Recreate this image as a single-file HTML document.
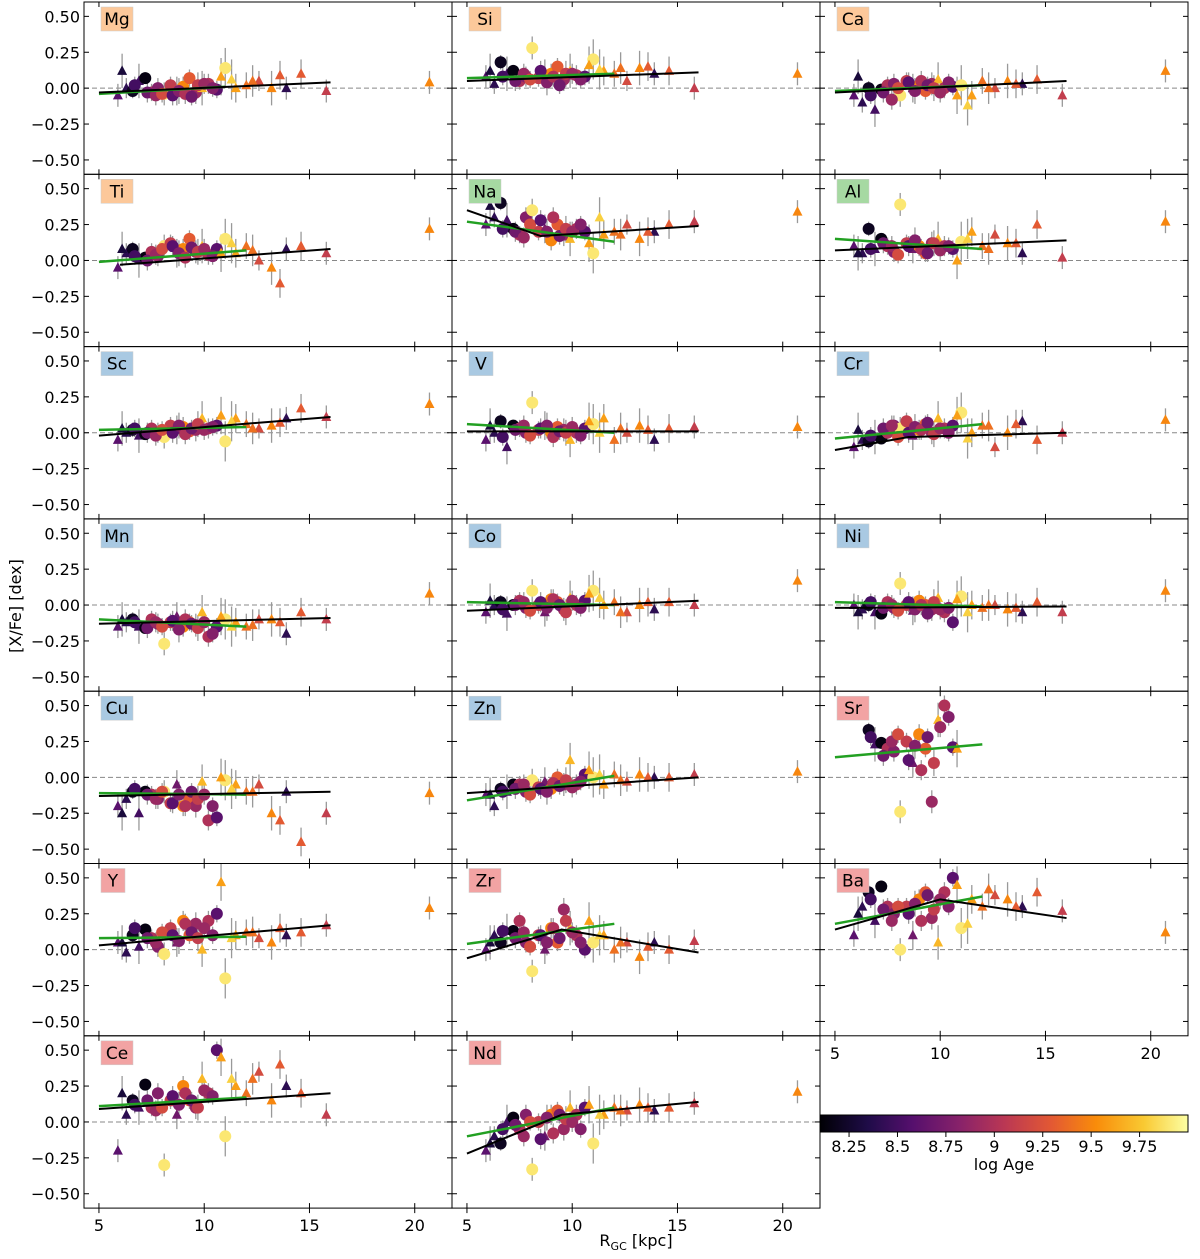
<!DOCTYPE html>
<html><head><meta charset="utf-8"><style>
body{margin:0;background:#fff}
svg text{font-family:"DejaVu Sans","Liberation Sans",sans-serif}
</style></head><body>
<svg id="fig" width="1200" height="1254" viewBox="0 0 1200 1254" xmlns="http://www.w3.org/2000/svg"></svg>
<script>
const elements=["Mg","Si","Ca","Ti","Na","Al","Sc","V","Cr","Mn","Co","Ni","Cu","Zn","Sr","Y","Zr","Ba","Ce","Nd"];
const boxColors=["#fcc89a","#fcc89a","#fcc89a","#fcc89a","#a6d9a2","#a6d9a2","#a9c9e2","#a9c9e2","#a9c9e2","#a9c9e2","#a9c9e2","#a9c9e2","#a9c9e2","#a9c9e2","#f2a3a3","#f2a3a3","#f2a3a3","#f2a3a3","#f2a3a3","#f2a3a3"];
const rgc=[5.9,6.3,6.6,6.9,7.2,7.5,7.8,8.1,8.4,8.7,9.0,9.3,9.6,9.9,10.2,10.6,11.0,11.5,12.0,12.6,13.2,13.9,14.6,15.8,20.7];
const logAge=[8.6,8.4,8.2,8.5,8.15,9.0,8.8,9.9,9.1,8.7,9.5,9.3,8.9,9.7,9.0,8.6,9.9,9.6,9.4,9.2,9.5,8.4,9.3,9.1,9.5];
const markerType=["t","t","c","t","c","c","c","c","c","t","c","c","c","t","c","c","c","t","t","t","t","t","t","t","t"];
const errs=[0.08,0.07,0.05,0.12,0.04,0.06,0.07,0.08,0.06,0.1,0.07,0.06,0.08,0.12,0.07,0.06,0.14,0.1,0.09,0.07,0.12,0.08,0.1,0.08,0.08];
const rgc2=[6.1,6.7,7.3,7.7,8.0,8.5,8.8,9.1,9.4,9.7,10.0,10.4,10.8,11.3,12.3,13.6];
const logAge2=[8.3,8.5,8.7,8.9,9.2,8.6,8.8,9.0,8.7,9.1,8.9,8.8,9.6,9.8,9.4,9.3];
const markerType2=["t","c","c","c","c","c","c","c","c","c","c","c","t","t","t","t"];
const errs2=[0.12,0.06,0.07,0.07,0.06,0.07,0.09,0.07,0.06,0.09,0.07,0.06,0.13,0.14,0.11,0.1];
const N=null;
const vals={
Mg:[-0.05,0.0,-0.02,0.05,0.07,-0.03,0.0,-0.04,0.02,-0.02,0.01,0.07,-0.03,0.0,0.03,-0.01,0.14,0.0,0.02,0.05,0.0,0.0,0.1,-0.02,0.04],
Si:[0.08,0.03,0.18,0.1,0.12,0.05,0.08,0.28,0.07,0.1,0.1,0.15,0.06,0.12,0.09,0.08,0.2,0.12,0.1,0.05,0.14,0.1,0.12,0.0,0.1],
Ca:[-0.05,-0.1,0.0,-0.15,-0.01,0.02,0.03,-0.05,0.05,0.0,0.02,-0.02,0.03,0.06,0.0,0.01,0.02,-0.05,0.05,0.0,0.05,0.03,0.06,-0.05,0.12],
Ti:[-0.05,0.05,0.08,0.0,0.02,0.06,0.03,0.1,0.12,0.05,0.08,0.15,0.06,0.1,0.04,0.08,0.15,0.05,0.1,0.0,-0.05,0.08,0.1,0.05,0.22],
Na:[0.25,0.3,0.4,0.28,0.22,0.18,0.3,0.35,0.2,0.22,0.14,0.25,0.18,0.15,0.22,0.2,0.05,0.18,0.2,0.25,0.15,0.2,0.25,0.27,0.34],
Al:[0.1,0.05,0.22,0.08,0.15,0.1,0.06,0.39,0.12,0.08,0.1,0.05,0.12,0.15,0.1,0.08,0.13,0.2,0.1,0.18,0.12,0.05,0.25,0.02,0.27],
Sc:[-0.05,0.0,0.02,-0.02,-0.01,0.03,0.0,-0.03,0.05,0.02,0.04,0.01,0.02,0.1,0.03,0.05,-0.06,0.1,0.06,0.03,0.05,0.1,0.17,0.11,0.2],
V:[-0.05,0.0,0.08,-0.1,0.05,0.03,0.0,0.21,0.02,0.05,0.0,0.04,0.02,-0.05,0.0,0.03,0.06,0.1,-0.05,0.0,0.05,-0.05,0.03,0.04,0.04],
Cr:[-0.1,-0.05,-0.06,-0.03,-0.04,0.0,0.05,0.03,0.08,-0.02,0.02,0.06,0.0,0.1,0.03,0.05,0.14,0.0,0.05,-0.1,0.0,0.08,-0.05,0.0,0.09],
Mn:[-0.15,-0.12,-0.1,-0.15,-0.16,-0.1,-0.13,-0.27,-0.12,-0.08,-0.15,-0.12,-0.14,-0.05,-0.22,-0.15,-0.1,-0.12,-0.15,-0.1,-0.1,-0.2,-0.05,-0.1,0.08],
Co:[-0.05,0.0,0.02,-0.06,0.0,0.03,-0.02,0.1,0.0,-0.05,0.04,0.02,-0.03,0.05,0.0,0.03,0.1,0.0,0.02,-0.05,0.0,-0.03,0.02,0.0,0.17],
Ni:[0.0,-0.03,0.0,-0.05,-0.06,0.02,-0.02,0.15,0.0,-0.04,0.03,0.0,-0.03,0.05,-0.05,-0.12,0.06,0.0,-0.02,0.0,-0.03,-0.05,0.02,-0.05,0.1],
Cu:[-0.2,-0.15,-0.1,-0.25,-0.1,-0.12,-0.15,-0.1,-0.18,-0.05,-0.2,-0.15,-0.2,-0.03,-0.3,-0.28,-0.02,-0.05,-0.1,-0.05,-0.25,-0.1,-0.45,-0.25,-0.11],
Zn:[-0.12,-0.2,-0.08,-0.1,-0.05,-0.05,-0.1,-0.02,-0.07,-0.03,-0.08,0.0,-0.05,0.12,-0.05,0.02,0.0,-0.05,0.02,-0.03,0.02,0.0,0.0,0.02,0.04],
Sr:[N,N,0.33,0.23,0.24,0.2,0.18,-0.24,0.25,0.1,0.3,0.2,-0.17,0.4,0.5,0.21,N,N,N,N,N,N,N,N,N],
Y:[0.05,-0.02,0.1,0.02,0.14,0.08,0.02,-0.03,0.15,0.05,0.2,0.1,0.18,0.0,0.2,0.25,-0.2,0.1,0.12,0.08,0.05,0.1,0.12,0.17,0.29],
Zr:[0.0,0.1,0.05,0.13,0.13,0.2,0.05,-0.15,0.1,0.0,0.15,0.05,0.28,0.15,0.1,0.0,0.05,0.1,0.0,0.05,-0.05,0.05,0.0,0.06,N],
Ba:[0.1,0.3,0.4,0.2,0.44,0.3,0.25,0.0,0.3,0.1,0.35,0.4,0.22,0.05,0.4,0.5,0.15,0.35,0.3,0.38,0.35,0.3,0.4,0.27,0.12],
Ce:[-0.2,0.05,0.15,0.1,0.26,0.1,0.2,-0.3,0.15,0.05,0.25,0.15,0.1,0.3,0.2,0.5,-0.1,0.25,0.2,0.35,0.15,0.25,0.2,0.05,N],
Nd:[-0.2,-0.1,-0.15,0.0,0.03,-0.05,0.05,-0.33,0.0,-0.1,0.05,0.08,-0.05,0.1,0.05,0.1,-0.15,0.05,0.1,0.08,0.12,0.08,0.1,0.13,0.21]};
const vals2={
Mg:[0.12,0.02,-0.03,-0.05,-0.04,-0.05,-0.02,-0.04,-0.06,0.02,0.03,0.0,0.08,0.06,0.05,0.09],
Si:[0.12,0.08,0.05,0.1,0.06,0.12,0.04,0.08,0.02,0.1,0.1,0.06,0.16,0.13,0.14,0.15],
Ca:[0.08,-0.05,-0.03,-0.08,0.0,0.04,-0.02,0.05,0.02,0.0,-0.03,0.04,-0.05,-0.12,0.0,0.03],
Ti:[0.08,0.03,0.0,0.04,0.08,0.1,0.05,0.02,0.09,0.06,0.08,0.03,0.05,0.12,0.07,-0.16],
Na:[0.38,0.22,0.2,0.16,0.25,0.28,0.2,0.3,0.17,0.22,0.2,0.25,0.12,0.3,0.18,0.2],
Al:[0.05,0.08,0.12,0.1,0.04,0.1,0.14,0.08,0.05,0.12,0.07,0.1,0.0,0.15,0.08,0.12],
Sc:[0.03,0.03,0.0,-0.02,0.02,0.0,0.05,-0.01,0.03,0.06,0.02,0.04,0.12,0.08,0.03,0.07],
V:[0.05,-0.03,0.02,0.05,-0.02,0.03,0.05,-0.03,0.01,0.0,0.04,-0.02,0.08,0.0,0.03,0.02],
Cr:[0.02,-0.02,0.03,0.05,-0.03,0.0,0.04,0.02,0.07,-0.01,0.03,0.0,0.12,-0.04,0.05,0.06],
Mn:[-0.1,-0.12,-0.16,-0.12,-0.15,-0.11,-0.17,-0.1,-0.13,-0.16,-0.12,-0.2,-0.08,-0.15,-0.14,-0.12],
Co:[0.03,-0.03,0.0,0.02,-0.04,0.02,-0.02,0.04,0.0,-0.05,0.03,-0.02,0.08,0.05,-0.05,0.02],
Ni:[-0.05,0.02,-0.02,0.0,-0.04,0.02,-0.03,0.0,-0.06,0.02,-0.03,-0.02,0.04,-0.05,0.0,-0.02],
Cu:[-0.25,-0.08,-0.12,-0.15,-0.1,-0.18,-0.12,-0.2,-0.1,-0.15,-0.12,-0.2,0.0,-0.08,-0.1,-0.3],
Zn:[-0.12,-0.1,-0.08,-0.05,-0.12,-0.08,-0.1,-0.04,-0.06,-0.02,-0.07,-0.03,0.05,0.02,-0.02,0.0],
Sr:[N,0.28,0.15,0.25,0.3,0.12,0.22,0.05,0.28,0.1,0.35,0.42,0.2,N,N,N],
Y:[0.05,0.15,0.08,0.05,0.12,0.1,0.06,0.18,0.12,0.08,0.15,0.1,0.47,0.08,0.12,0.15],
Zr:[0.05,0.13,0.08,0.12,0.02,0.1,0.05,0.15,0.08,0.2,0.12,0.05,0.2,0.1,0.05,0.02],
Ba:[0.25,0.35,0.28,0.2,0.3,0.25,0.32,0.2,0.38,0.28,0.35,0.3,0.45,0.18,0.42,0.3],
Ce:[0.2,0.12,0.15,0.08,0.1,0.18,0.12,0.2,0.15,0.1,0.22,0.18,0.45,0.3,0.3,0.4],
Nd:[-0.15,-0.05,-0.02,-0.1,0.0,-0.12,0.03,-0.08,0.05,0.02,0.0,-0.05,0.12,0.05,0.08,0.1]};
const blackFit={Mg:[[5,-0.03],[16,0.04]],Si:[[5,0.05],[16,0.11]],Ca:[[5,-0.03],[16,0.05]],Ti:[[6,-0.03],[16,0.08]],Na:[[5,0.35],[8.5,0.17],[16,0.24]],Al:[[5,0.07],[16,0.14]],Sc:[[5,-0.02],[16,0.11]],V:[[5,0.01],[16,0.01]],Cr:[[5,-0.12],[8.5,-0.03],[16,0.0]],Mn:[[5,-0.13],[16,-0.09]],Co:[[5,-0.04],[16,0.03]],Ni:[[5,-0.02],[16,-0.01]],Cu:[[5,-0.13],[16,-0.1]],Zn:[[5,-0.11],[16,0.0]],Sr:[],Y:[[5,0.03],[16,0.17]],Zr:[[5,-0.06],[9.5,0.14],[16,-0.02]],Ba:[[5,0.14],[10,0.35],[16,0.22]],Ce:[[5,0.09],[16,0.2]],Nd:[[5,-0.22],[9.5,0.05],[16,0.14]]};
const greenFit={Mg:[[5,-0.04],[11,0.01]],Si:[[5,0.07],[12,0.1]],Ca:[[5,-0.02],[12,0.02]],Ti:[[5,-0.01],[12,0.07]],Na:[[5,0.27],[12,0.13]],Al:[[5,0.15],[12,0.08]],Sc:[[5,0.02],[12,0.04]],V:[[5,0.06],[12,0.0]],Cr:[[5,-0.04],[12,0.06]],Mn:[[5,-0.1],[12,-0.15]],Co:[[5,0.02],[12,0.0]],Ni:[[5,0.02],[12,-0.01]],Cu:[[5,-0.11],[12,-0.12]],Zn:[[5,-0.16],[12,0.01]],Sr:[[5,0.14],[12,0.23]],Y:[[5,0.08],[12,0.09]],Zr:[[5,0.04],[12,0.18]],Ba:[[5,0.18],[12,0.37]],Ce:[[5,0.11],[12,0.17]],Nd:[[5,-0.1],[12,0.1]]};
const yTicks=[0.5,0.25,0,-0.25,-0.5];
const yTickLabels=["0.50","0.25","0.00","\u22120.25","\u22120.50"];
const xTicks=[5,10,15,20];
const cbTicks=[8.25,8.5,8.75,9,9.25,9.5,9.75];
const cbTickLabels=["8.25","8.5","8.75","9","9.25","9.5","9.75"];

const svg=document.getElementById('fig');
const NS="http://www.w3.org/2000/svg";
function mk(tag,attrs,parent){const e=document.createElementNS(NS,tag);for(const k in attrs)e.setAttribute(k,attrs[k]);(parent||svg).appendChild(e);return e;}
const colX=[84,452,820], W=368, rowY=[2,174.3,346.6,518.9,691.2,863.5,1035.8], H=172.3;
const xmin=4.29,xmax=21.77,ymin=-0.6,ymax=0.6;
const infS=[[0,0,0,4],[0.13,31,12,72],[0.25,85,15,109],[0.38,136,34,106],[0.5,186,55,84],[0.63,227,89,51],[0.75,249,140,10],[0.88,249,201,50],[1,252,255,164]];
const cmin=8.1,cmax=10.0;
function cmap(v){let t=Math.max(0,Math.min(1,(v-cmin)/(cmax-cmin)));for(let i=1;i<infS.length;i++){if(t<=infS[i][0]){const a=infS[i-1],b=infS[i],f=(t-a[0])/(b[0]-a[0]);return `rgb(${Math.round(a[1]+f*(b[1]-a[1]))},${Math.round(a[2]+f*(b[2]-a[2]))},${Math.round(a[3]+f*(b[3]-a[3]))})`;}}return 'rgb(252,255,164)';}

elements.forEach((el,i)=>{
  const c=i%3,r=Math.floor(i/3);
  const x0=colX[c],y0=rowY[r];
  const sx=v=>x0+(v-xmin)/(xmax-xmin)*W;
  const sy=v=>y0+(ymax-v)/(ymax-ymin)*H;
  const g=mk('g',{});
  
  
  mk('line',{x1:x0,x2:x0+W,y1:sy(0),y2:sy(0),stroke:'#888','stroke-dasharray':'5,3','stroke-width':1},g);
  const sets=[[rgc,logAge,markerType,errs,vals[el]],[rgc2,logAge2,markerType2,errs2,vals2[el]]];
  sets.forEach(([R,A,T,E,v])=>{
    v.forEach((y,k)=>{if(y===null)return;
      const e=mk('line',{x1:sx(R[k]),x2:sx(R[k]),y1:sy(y+E[k]),y2:sy(y-E[k]),stroke:'#999','stroke-width':1.3},g);
      
      });
  });
  sets.forEach(([R,A,T,E,v])=>{
    v.forEach((y,k)=>{if(y===null)return;
      const px=sx(R[k]),py=sy(y),col=cmap(A[k]);let m;
      if(T[k]==='c'){m=mk('circle',{cx:px,cy:py,r:6,fill:col},g);}
      else{m=mk('polygon',{points:`${px},${py-5.5} ${px-5},${py+4} ${px+5},${py+4}`,fill:col},g);}
      
      });
  });
  const gf=greenFit[el];
  if(gf.length){const p=mk('polyline',{points:gf.map(q=>sx(q[0])+','+sy(q[1])).join(' '),fill:'none',stroke:'#22a022','stroke-width':2.5},g);
    }
  const bf=blackFit[el];
  if(bf.length){const p=mk('polyline',{points:bf.map(q=>sx(q[0])+','+sy(q[1])).join(' '),fill:'none',stroke:'#000','stroke-width':2},g);
    }
  mk('rect',{x:x0,y:y0,width:W,height:H,fill:'none',stroke:'#000','stroke-width':1},g);
  yTicks.forEach((t,k)=>{const yy=sy(t);
    mk('line',{x1:x0,x2:x0+5,y1:yy,y2:yy,stroke:'#000'},g);
    mk('line',{x1:x0+W-5,x2:x0+W,y1:yy,y2:yy,stroke:'#000'},g);
    if(c===0){const tl=mk('text',{x:x0-4,y:yy+6,'text-anchor':'end','font-size':16},g);tl.textContent=yTickLabels[k];
      }});
  xTicks.forEach(t=>{const xx=sx(t);
    mk('line',{x1:xx,x2:xx,y1:y0,y2:y0+5,stroke:'#000'},g);
    mk('line',{x1:xx,x2:xx,y1:y0+H-5,y2:y0+H,stroke:'#000'},g);
    if(r===6||(c===2&&r===5)){mk('line',{x1:xx,x2:xx,y1:y0+H,y2:y0+H+5,stroke:'#000'},g);
      const tl=mk('text',{x:xx,y:y0+H+23,'text-anchor':'middle','font-size':16},g);tl.textContent=String(t);
      }});
  const bw=el.length>1?32:24;
  const lb=mk('rect',{x:x0+17,y:y0+5,width:bw,height:24,fill:boxColors[i],stroke:'#ccc','stroke-width':0.5},g);
  
  const lt=mk('text',{x:x0+17+bw/2,y:y0+23,'text-anchor':'middle','font-size':17},g);lt.textContent=el;
  
});
let t=mk('text',{x:0,y:0,'font-size':16,'text-anchor':'middle',transform:'translate(21,606) rotate(-90)'});
t.textContent='[X/Fe] [dex]';
t=mk('text',{x:636,y:1246,'font-size':16,'text-anchor':'middle'});
t.innerHTML='R<tspan font-size="11" dy="4">GC</tspan><tspan dy="-4"> [kpc]</tspan>';

const defs=mk('defs',{});const lg=mk('linearGradient',{id:'inf',x1:0,x2:1,y1:0,y2:0},defs);
infS.forEach(s=>mk('stop',{offset:s[0],'stop-color':`rgb(${s[1]},${s[2]},${s[3]})`},lg));
const cb=mk('rect',{x:820,y:1115,width:368,height:17,fill:'url(#inf)',stroke:'#000','stroke-width':1});

const cx=v=>820+(v-cmin)/(cmax-cmin)*368;
cbTicks.forEach((v,k)=>{mk('line',{x1:cx(v),x2:cx(v),y1:1132,y2:1137,stroke:'#000'});
  const tl=mk('text',{x:cx(v),y:1152,'text-anchor':'middle','font-size':16});tl.textContent=cbTickLabels[k];
  });
t=mk('text',{x:1004,y:1170,'font-size':16,'text-anchor':'middle'});t.textContent='log Age';

</script>
</body></html>
